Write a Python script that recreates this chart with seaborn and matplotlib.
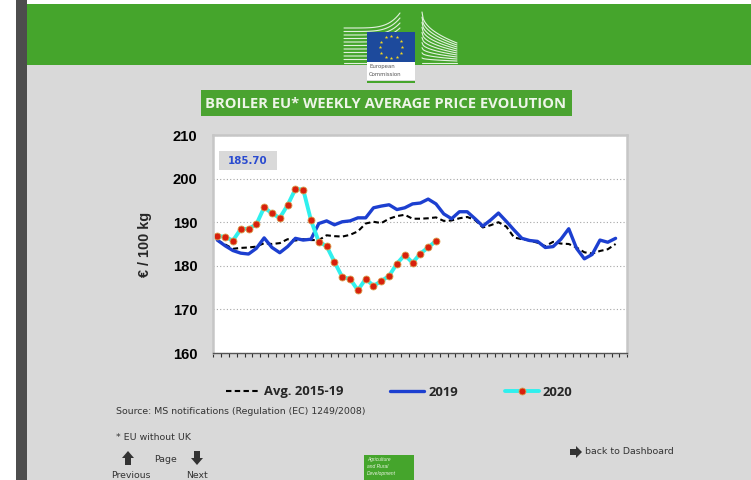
#!/usr/bin/env python3
# -*- coding: utf-8 -*-
import numpy as np
import pandas as pd
import matplotlib
matplotlib.use('Agg')
import matplotlib.pyplot as plt
from matplotlib.patches import Rectangle, Polygon
import seaborn as sns

# values
avg_1519 = [185.8, 184.9, 183.9, 184.1, 184.2, 184.4, 185.2, 185.0, 185.2, 186.1,
            185.8, 186.1, 185.9, 185.9, 187.0, 186.8, 186.7, 187.1, 187.9, 189.7,
            190.1, 189.8, 190.8, 191.4, 191.7, 190.8, 190.8, 190.9, 191.1, 190.3,
            190.4, 190.9, 191.2, 190.5, 188.8, 189.3, 190.0, 189.0, 186.5, 186.1,
            185.8, 185.3, 184.5, 185.5, 185.1, 185.0, 184.2, 183.1, 182.8, 183.4,
            183.8, 185.0]
y2019 = [185.9, 184.6, 183.5, 182.9, 182.7, 184.0, 186.4, 184.2, 183.0, 184.4,
         186.3, 185.9, 186.1, 189.7, 190.3, 189.4, 190.1, 190.3, 191.0, 191.0,
         193.3, 193.7, 194.0, 192.9, 193.3, 194.2, 194.4, 195.3, 194.2, 191.9,
         190.8, 192.4, 192.4, 190.8, 189.1, 190.5, 192.1, 190.2, 188.2, 186.3,
         185.8, 185.6, 184.2, 184.4, 186.1, 188.5, 184.0, 181.6, 182.6, 185.9,
         185.4, 186.3]
y2020 = [186.9, 186.6, 185.8, 188.4, 188.5, 189.5, 193.4, 192.0, 191.0, 193.9,
         197.6, 197.5, 190.4, 185.5, 184.5, 180.9, 177.4, 177.0, 174.4, 177.0,
         175.4, 176.5, 177.7, 180.5, 182.5, 180.7, 182.8, 184.2, 185.7]
y_ticks = [160, 170, 180, 190, 200, 210]
latest_value = '185.70'
title = 'BROILER EU* WEEKLY AVERAGE PRICE EVOLUTION'
n_weeks = 53

sns.set_style("white")
plt.rcParams['font.family'] = ['Liberation Sans', 'DejaVu Sans']

BG = '#d9d9d9'
GREEN = '#45a52c'
W, H = 751, 480

fig = plt.figure(figsize=(W / 100, H / 100), dpi=100, facecolor=BG)

# page furniture, in pixel coordinates
bg = fig.add_axes([0, 0, 1, 1], zorder=0)
bg.set_xlim(0, W)
bg.set_ylim(H, 0)
bg.axis('off')

bg.add_patch(Rectangle((0, 0), 16, H, fc='white', ec='none'))
bg.add_patch(Rectangle((16, 0), W - 16, 4, fc='white', ec='none'))
bg.add_patch(Rectangle((16, 0), 11, H, fc='#4d4d4d', ec='none'))
bg.add_patch(Rectangle((27, 4), W - 27, 61, fc=GREEN, ec='none'))

# logo: the two wings of the building
for k in range(11):
    t = np.linspace(0, 1, 30)
    f = k / 10
    xs = 344 + 56 * t
    ys = 63 - f * (35 + 15 * t ** 5)
    bg.plot(xs, ys, color='white', lw=0.8, alpha=0.85, zorder=1.5)
    xs = 422 + 35 * t
    ys = 63 - f * (51 - 31 * t ** 0.45)
    bg.plot(xs, ys, color='white', lw=0.8, alpha=0.85, zorder=1.5)

bg.add_patch(Rectangle((367, 32), 48, 30, fc='#1d4a9c', ec='none', zorder=2))
bg.add_patch(Rectangle((367, 62), 48, 18, fc='white', ec='none', zorder=2))
bg.add_patch(Rectangle((367, 80.5), 48, 2, fc=GREEN, ec='none', zorder=2))
ang = np.arange(12) * np.pi / 6
bg.scatter(391 + 11 * np.cos(ang), 47 + 11 * np.sin(ang), s=7, marker='*', color='#f5d820', lw=0, zorder=3)
bg.text(369, 66.5, 'European', fontsize=3.9, color='#555555', va='center', family='DejaVu Sans', zorder=3)
bg.text(369, 75, 'Commission', fontsize=3.9, color='#555555', va='center', family='DejaVu Sans', zorder=3)

# title
bg.add_patch(Rectangle((201, 90), 371, 26, fc='#4aa330', ec='none'))
bg.text(386, 103.5, title, color='#eef5e8', fontsize=10.6, fontweight='bold',
        ha='center', va='center', family='Open Sans')

# footer
small = dict(fontsize=6.75, color='#333333', va='center', family='DejaVu Sans')
bg.text(116, 412, 'Source: MS notifications (Regulation (EC) 1249/2008)', **small)
bg.text(116, 438, '* EU without UK', **small)
bg.text(154, 459, 'Page', **small)
bg.text(111, 476, 'Previous', **small)
bg.text(186, 476, 'Next', **small)
bg.text(585, 452, 'back to Dashboard', **small)

arrow = '#333333'
bg.add_patch(Polygon([(128, 451), (134, 458), (131, 458), (131, 465), (125, 465), (125, 458), (122, 458)], fc=arrow, ec='none'))
bg.add_patch(Polygon([(197, 465), (203, 458), (200, 458), (200, 451), (194, 451), (194, 458), (191, 458)], fc=arrow, ec='none'))
bg.add_patch(Polygon([(582, 452), (576, 446), (576, 449), (570, 449), (570, 455), (576, 455), (576, 458)], fc=arrow, ec='none'))

bg.add_patch(Rectangle((364, 455), 50, 25, fc=GREEN, ec='none'))
bg.text(367, 459, 'Agriculture', fontsize=3.5, color='#e8f3e0', style='italic', va='center')
bg.text(367, 466, 'and Rural', fontsize=3.5, color='#e8f3e0', style='italic', va='center')
bg.text(367, 473, 'Development', fontsize=3.5, color='#e8f3e0', style='italic', va='center')

# chart
left, right, top, bottom = 213.4, 627.3, 135, 353
ax = fig.add_axes([left / W, 1 - bottom / H, (right - left) / W, (bottom - top) / H], zorder=1)
ax.set_facecolor('white')

df_avg = pd.DataFrame({'week': np.arange(1, len(avg_1519) + 1), 'price': avg_1519})
df_19 = pd.DataFrame({'week': np.arange(1, len(y2019) + 1), 'price': y2019})
df_20 = pd.DataFrame({'week': np.arange(1, len(y2020) + 1), 'price': y2020})

sns.lineplot(data=df_avg, x='week', y='price', ax=ax, color='black', lw=1.5,
             linestyle=(0, (2.6, 1.6)), label='Avg. 2015-19')
sns.lineplot(data=df_19, x='week', y='price', ax=ax, color='#1c3fd0', lw=2.4, label='2019')
sns.lineplot(data=df_20, x='week', y='price', ax=ax, color='#2ff0ee', lw=2.8, marker='o',
             markersize=5, markerfacecolor='#d8200c', markeredgecolor='#d9a050',
             markeredgewidth=0.6, label='2020')

ax.set_xlim(0.5, n_weeks + 0.5)
ax.set_ylim(160, 210)
ax.set_xticks(np.arange(0.5, n_weeks + 1))
ax.set_xticklabels([])
ax.set_yticks(y_ticks)
ax.set_yticklabels(y_ticks, fontsize=10.6, fontweight='bold', color='black')
ax.tick_params(axis='y', length=0, pad=11.5)
ax.tick_params(axis='x', length=3, width=0.8, color='#333333', bottom=True)
ax.yaxis.grid(True, color='#a6a6a6', lw=0.8, linestyle=(0, (1, 2)))
ax.xaxis.grid(False)
ax.set_axisbelow(True)
ax.set_xlabel('')
ax.set_ylabel('€ / 100 kg', fontsize=10.4, fontweight='bold', labelpad=15)

for side in ['left', 'top', 'right']:
    ax.spines[side].set_visible(True)
    ax.spines[side].set_color('#c6c6c6')
    ax.spines[side].set_linewidth(1.8)
ax.spines['bottom'].set_visible(True)
ax.spines['bottom'].set_color('#555555')
ax.spines['bottom'].set_linewidth(1.0)

# latest value box
ax.add_patch(Rectangle((219, 151), 58, 19, transform=bg.transData, fc=BG, ec='none', zorder=5))
ax.text(248, 161, latest_value, transform=bg.transData, color='#2a4bd0', fontsize=7.4,
        fontweight='bold', ha='center', va='center', family='DejaVu Sans', zorder=6)

leg = ax.legend(loc='center left', bbox_to_anchor=(226 / W, 1 - 392 / H),
                bbox_transform=fig.transFigure, ncol=3, frameon=False,
                handlelength=2.6, handletextpad=0.3, columnspacing=3.6,
                borderpad=0, borderaxespad=0,
                prop=dict(family='Open Sans', weight='bold', size=9.4))

fig.savefig('out.png', dpi=100, facecolor=BG)
